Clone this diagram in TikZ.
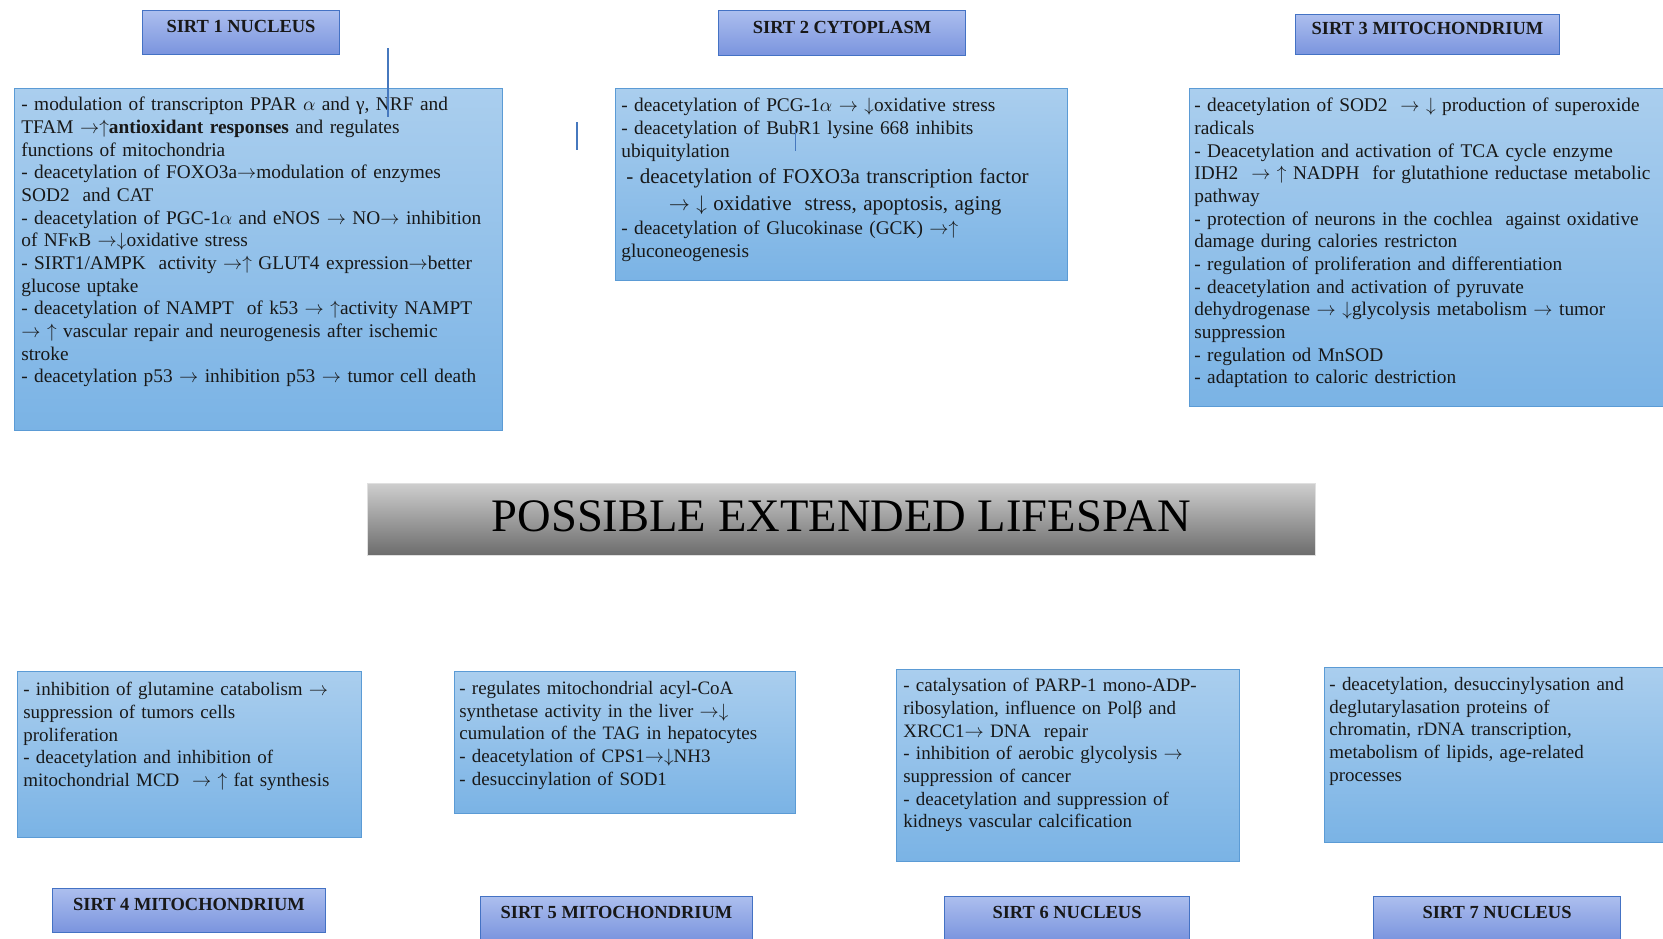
\documentclass[tikz,border=0pt]{standalone}
\usepackage{fontspec}
\setmainfont{Liberation Serif}
\usepackage{xcolor}
\usepackage{tikz}
\usetikzlibrary{positioning,calc}

\definecolor{boxtop}{RGB}{170,206,238}
\definecolor{boxbot}{RGB}{122,179,229}
\definecolor{boxline}{RGB}{91,155,213}
\definecolor{headtop}{RGB}{172,190,238}
\definecolor{headbot}{RGB}{122,148,222}
\definecolor{headline}{RGB}{68,114,196}
\definecolor{bantop}{RGB}{206,206,206}
\definecolor{banbot}{RGB}{108,108,108}
\definecolor{ink}{RGB}{24,24,24}
\definecolor{stray}{RGB}{70,120,190}

\begin{document}
\begin{tikzpicture}[
  x=0.02cm, y=-0.02cm,
  infobox/.style={
    draw=boxline, line width=0.6pt, top color=boxtop, bottom color=boxbot,
    anchor=north west, inner sep=0pt
  },
  infotext/.style={
    anchor=north west, inner sep=0pt, align=left, text=ink,
    font=\fontsize{11}{12.9}\selectfont
  },
  lowtext/.style={infotext, font=\fontsize{10.8}{12.9}\selectfont},
  head/.style={
    draw=headline, line width=0.6pt, top color=headtop, bottom color=headbot,
    anchor=north west, inner sep=0pt, text=ink,
    font=\fontsize{10.5}{12}\selectfont\bfseries, text height=7pt, text depth=7pt
  },
  banner/.style={
    draw=black!12, top color=bantop, bottom color=banbot, anchor=north west,
    inner sep=0pt, text=black, font=\fontsize{26.5}{30}\selectfont,
    text height=18pt, text depth=4pt
  },
  strayline/.style={stray, line width=0.8pt}
]

\def\px{0.02cm}
\def\rarr{$\rightarrow$}
\def\uarr{$\uparrow$}
\def\darr{$\downarrow$}

\useasboundingbox (0,0) rectangle (1663,938);

% Headers, top row
\node[head, minimum width=197*\px, minimum height=44*\px] (h1) at (142,10) {SIRT 1 NUCLEUS};
\node[head, minimum width=247*\px, minimum height=45*\px] (h2) at (718,10) {SIRT 2 CYTOPLASM};
\node[head, minimum width=264*\px, minimum height=40*\px] (h3) at (1295,14) {SIRT 3 MITOCHONDRIUM};

% Boxes, top row
\node[infobox, minimum width=488*\px, minimum height=342*\px] (b1) at (14,88) {};
\node[infobox, minimum width=452*\px, minimum height=192*\px] (b2) at (615,88) {};
\node[infobox, minimum width=480*\px, minimum height=318*\px] (b3) at (1189,88) {};

% SIRT 1: nucleus
\node[infotext, text width=9.6cm] (x1) at (21,97) {
  - modulation of transcripton PPAR $\alpha$ and γ, NRF and\\
  TFAM \rarr\uarr\textbf{antioxidant responses} and regulates\\
  functions of mitochondria\\
  - deacetylation of FOXO3a\rarr modulation of enzymes\\
  SOD2 \ and CAT\\
  - deacetylation of PGC-1$\alpha$ and eNOS \rarr\ NO\rarr\ inhibition\\
  of NFκB \rarr\darr oxidative stress\\
  - SIRT1/AMPK \ activity \rarr\uarr\ GLUT4 expression\rarr better\\
  glucose uptake\\
  - deacetylation of NAMPT \ of k53 \rarr\ \uarr activity NAMPT\\
  \rarr\ \uarr\ vascular repair and neurogenesis after ischemic\\
  stroke\\
  - deacetylation p53 \rarr\ inhibition p53 \rarr\ tumor cell death
};

% SIRT 2: cytoplasm
\node[infotext, text width=9.2cm] (x2) at (621,98) {
  - deacetylation of PCG-1$\alpha$ \rarr\ \darr oxidative stress\\
  - deacetylation of BubR1 lysine 668 inhibits\\
  ubiquitylation\\[1pt]
  \fontsize{12}{14}\selectfont\hspace*{0.1cm}- deacetylation of FOXO3a transcription factor\\[1pt]
  \hspace*{0.95cm}\rarr\ \darr\ oxidative \ stress, apoptosis, aging\\[1pt]
  \fontsize{11}{12.9}\selectfont - deacetylation of Glucokinase (GCK) \rarr\uarr\\
  gluconeogenesis
};

% SIRT 3: mitochondrium
\node[infotext, text width=10cm] (x3) at (1194,98) {
  - deacetylation of SOD2 \ \rarr\ \darr\ production of superoxide\\
  radicals\\
  - Deacetylation and activation of TCA cycle enzyme\\
  IDH2 \ \rarr\ \uarr\ NADPH \ for glutathione reductase metabolic\\
  pathway\\
  - protection of neurons in the cochlea \ against oxidative\\
  damage during calories restricton\\
  - regulation of proliferation and differentiation\\
  - deacetylation and activation of pyruvate\\
  dehydrogenase \rarr\ \darr glycolysis metabolism \rarr\ tumor\\
  suppression\\
  - regulation od MnSOD\\
  - adaptation to caloric destriction
};

% Centre banner
\node[banner, minimum width=948*\px, minimum height=72*\px] (ban) at (367,483) {POSSIBLE EXTENDED LIFESPAN};

% Boxes, bottom row
\node[infobox, minimum width=344*\px, minimum height=166*\px] (b4) at (17,671) {};
\node[infobox, minimum width=341*\px, minimum height=142*\px] (b5) at (454,671) {};
\node[infobox, minimum width=343*\px, minimum height=192*\px] (b6) at (896,669) {};
\node[infobox, minimum width=344*\px, minimum height=175*\px] (b7) at (1324,667) {};

% SIRT 4: mitochondrium
\node[lowtext, text width=6.9cm] (x4) at (23,682) {
  - inhibition of glutamine catabolism \rarr\\
  suppression of tumors cells\\
  proliferation\\
  - deacetylation and inhibition of\\
  mitochondrial MCD \ \rarr\ \uarr\ fat synthesis
};

% SIRT 5: mitochondrium
\node[lowtext, text width=6.8cm] (x5) at (459,681) {
  - regulates mitochondrial acyl-CoA\\
  synthetase activity in the liver \rarr\darr\\
  cumulation of the TAG in hepatocytes\\
  - deacetylation of CPS1\rarr\darr NH3\\
  - desuccinylation of SOD1
};

% SIRT 6: nucleus
\node[lowtext, text width=6.8cm] (x6) at (903,678) {
  - catalysation of PARP-1 mono-ADP-\\
  ribosylation, influence on Polβ and\\
  XRCC1\rarr\ DNA \ repair\\
  - inhibition of aerobic glycolysis \rarr\\
  suppression of cancer\\
  - deacetylation and suppression of\\
  kidneys vascular calcification
};

% SIRT 7: nucleus
\node[lowtext, text width=6.8cm] (x7) at (1329,677) {
  - deacetylation, desuccinylysation and\\
  deglutarylasation proteins of\\
  chromatin, rDNA transcription,\\
  metabolism of lipids, age-related\\
  processes
};

% Headers, bottom row
\node[head, minimum width=273*\px, minimum height=44*\px] (h4) at (52,888) {SIRT 4 MITOCHONDRIUM};
\node[head, minimum width=272*\px, minimum height=44*\px] (h5) at (480,896) {SIRT 5 MITOCHONDRIUM};
\node[head, minimum width=245*\px, minimum height=44*\px] (h6) at (944,896) {SIRT 6 NUCLEUS};
\node[head, minimum width=247*\px, minimum height=44*\px] (h7) at (1373,896) {SIRT 7 NUCLEUS};

% Stray marks
\coordinate (m1a) at (388,48);  \coordinate (m1b) at (388,117);
\coordinate (m2a) at (577,122); \coordinate (m2b) at (577,150);
\coordinate (m3a) at (795,129); \coordinate (m3b) at (795,151);
\draw[strayline] (m1a) -- (m1b);
\draw[strayline] (m2a) -- (m2b);
\draw[strayline, line width=0.5pt] (m3a) -- (m3b);

\end{tikzpicture}
\end{document}
